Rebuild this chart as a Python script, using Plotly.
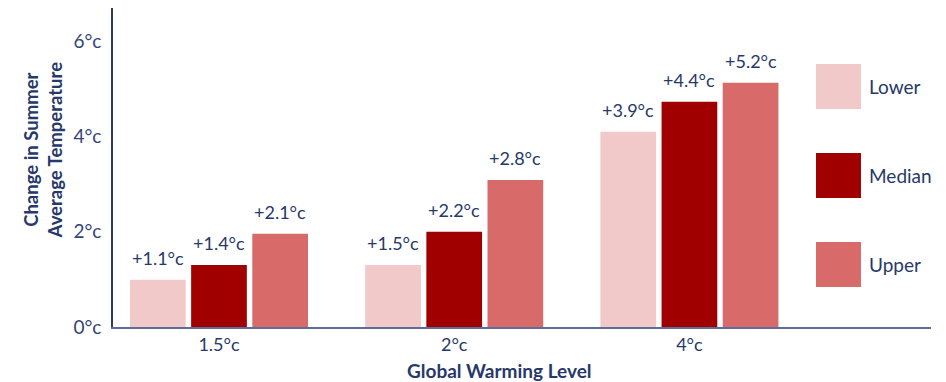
import plotly.graph_objects as go

# ---- data ----
categories = ["1.5°c", "2°c", "4°c"]
series_names = ["Lower", "Median", "Upper"]
lower_vals = [0.99, 1.30, 4.10]
median_vals = [1.30, 2.00, 4.73]
upper_vals = [1.96, 3.09, 5.13]
lower_labels = ["+1.1°c", "+1.5°c", "+3.9°c"]
median_labels = ["+1.4°c", "+2.2°c", "+4.4°c"]
upper_labels = ["+2.1°c", "+2.8°c", "+5.2°c"]
y_tick_vals = [0, 2, 4, 6]
y_tick_text = ["0°c", "2°c", "4°c", "6°c"]

# ---- style ----
colors = ["#f2c9c9", "#a00000", "#d96a6a"]
navy = "#27386a"
font_family = "Lato, 'Open Sans', sans-serif"
bargap = 0.22
bargroupgap = 0.089

values = [lower_vals, median_vals, upper_vals]
labels = [lower_labels, median_labels, upper_labels]

fig = go.Figure()
for name, vals, col in zip(series_names, values, colors):
    fig.add_trace(go.Bar(x=categories, y=vals, name=name, marker=dict(color=col, line=dict(width=0)),
                         hoverinfo="skip", showlegend=False))

# value labels, positioned via the category axis scale
n = len(series_names)
slot = (1 - bargap) / n
for i, labs in enumerate(labels):
    for j, (lab, v) in enumerate(zip(labs, values[i])):
        fig.add_annotation(x=j + (i - (n - 1) / 2) * slot, y=v, xref="x", yref="y",
                           text=lab, showarrow=False, yanchor="middle", yshift=22,
                           font=dict(size=18, color=navy, family=font_family))

# custom legend (large swatches)
legend_y = [(0.8245, 0.6834), (0.5455, 0.4044), (0.2665, 0.1254)]
for name, col, (y1, y0) in zip(series_names, colors, legend_y):
    fig.add_shape(type="rect", xref="paper", yref="paper", x0=0.8594, x1=0.9144, y0=y0, y1=y1,
                  fillcolor=col, line=dict(width=0))
    fig.add_annotation(x=0.9218, y=(y0 + y1) / 2, xref="paper", yref="paper", text=name,
                       showarrow=False, xanchor="left", yanchor="middle",
                       font=dict(size=19, color=navy, family=font_family))

# axis titles
fig.add_annotation(x=-0.0862, y=0.555, xref="paper", yref="paper",
                   text="<b>Change in Summer<br>Average Temperature</b>", textangle=-90,
                   showarrow=False, xanchor="center", yanchor="middle",
                   font=dict(size=18.5, color=navy, family=font_family))
fig.add_annotation(x=0.4725, y=-0.1348, xref="paper", yref="paper",
                   text="<b>Global Warming Level</b>", showarrow=False,
                   xanchor="center", yanchor="middle",
                   font=dict(size=19, color=navy, family=font_family))

fig.update_layout(
    width=946, height=382,
    margin=dict(l=113, r=15, t=8, b=55),
    barmode="group", bargap=bargap, bargroupgap=bargroupgap,
    plot_bgcolor="white", paper_bgcolor="white",
    font=dict(family=font_family, color=navy, size=18),
    xaxis=dict(range=[-0.4506, 3.027], showline=True, linecolor="#5d6d96", linewidth=2,
               showgrid=False, zeroline=False, ticks="", tickfont=dict(size=18, color=navy)),
    yaxis=dict(range=[0, 6.70], tickmode="array", tickvals=y_tick_vals, ticktext=y_tick_text,
               showline=True, linecolor="#2b3a66", linewidth=1.5, showgrid=False, zeroline=False,
               ticks="", ticklabelstandoff=6, tickfont=dict(size=19, color="#34447a")),
)

fig.write_html("out.html")
